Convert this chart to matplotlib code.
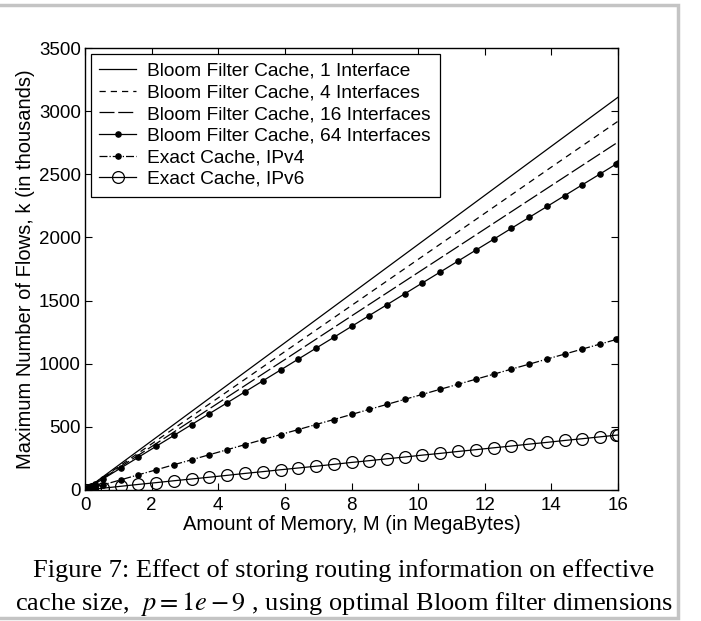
import matplotlib
matplotlib.use("Agg")
import matplotlib.pyplot as plt
from matplotlib.patches import Rectangle

plt.rcParams['font.family'] = ['Liberation Sans', 'DejaVu Sans']
plt.rcParams['mathtext.fontset'] = 'stix'

# memory grid of the marked series (MB)
mem = [0, 0.05, 0.1, 0.2, 0.3, 0.53, 1.07, 1.6, 2.13, 2.67, 3.2, 3.73, 4.27,
       4.8, 5.33, 5.87, 6.4, 6.93, 7.47, 8.0, 8.53, 9.07, 9.6, 10.13, 10.67,
       11.2, 11.73, 12.27, 12.8, 13.33, 13.87, 14.4, 14.93, 15.47, 15.95, 16.0]
bloom64 = [0, 8, 16, 32, 49, 86, 173, 259, 345, 432, 518, 604, 691, 777, 863,
           950, 1036, 1122, 1209, 1295, 1381, 1468, 1554, 1640, 1727, 1813,
           1899, 1986, 2072, 2158, 2245, 2331, 2417, 2504, 2582, 2590]
ipv4 = [0, 4, 7, 15, 22, 40, 80, 120, 159, 200, 239, 279, 319, 359, 398, 439,
        478, 518, 558, 598, 638, 678, 718, 757, 798, 837, 877, 917, 957, 996,
        1037, 1076, 1116, 1156, 1192, 1196]
ipv6 = [0, 1, 3, 5, 8, 14, 29, 44, 58, 73, 87, 101, 116, 131, 145, 160, 174,
        188, 203, 218, 232, 247, 261, 276, 290, 305, 319, 334, 348, 363, 377,
        392, 406, 421, 434, 435]

# plain lines
mem_line = [0, 2, 4, 6, 8, 10, 12, 14, 16]
bloom1 = [0, 389, 778, 1166, 1555, 1944, 2333, 2722, 3110]
bloom4 = [0, 365, 730, 1096, 1461, 1826, 2191, 2557, 2920]
bloom16 = [0, 344, 689, 1033, 1378, 1722, 2066, 2411, 2755]

labels = ["Bloom Filter Cache, 1 Interface", "Bloom Filter Cache, 4 Interfaces",
          "Bloom Filter Cache, 16 Interfaces", "Bloom Filter Cache, 64 Interfaces",
          "Exact Cache, IPv4", "Exact Cache, IPv6"]

fig = plt.figure(figsize=(7.01, 6.21), dpi=100)
ax = fig.add_axes([0.1213, 0.2110, 0.7603, 0.7117])

lw = 0.9
ax.plot(mem_line, bloom1, "-", c="k", lw=lw, label=labels[0])
ax.plot(mem_line, bloom4, "--", c="k", lw=lw, dashes=(5, 4), label=labels[1])
ax.plot(mem_line, bloom16, c="k", lw=lw, dashes=(12, 3), label=labels[2])
ax.plot(mem, bloom64, "-", c="k", lw=lw, marker=".", ms=7.5, label=labels[3])
ax.plot(mem, ipv4, "-.", c="k", lw=lw, marker=".", ms=7.5, label=labels[4])
ax.plot(mem, ipv6, "-", c="k", lw=lw, marker="o", ms=8.5, mfc="none",
        mew=0.9, label=labels[5])

ax.set_xlim(0, 16)
ax.set_ylim(0, 3500)
ax.set_xticks(range(0, 17, 2))
ax.set_yticks(range(0, 3501, 500))
ax.tick_params(direction="in", top=True, right=True, length=5, labelsize=13.5,
               width=0.8)
ax.tick_params(axis="x", pad=5)
ax.tick_params(axis="y", pad=3)
for s in ax.spines.values():
    s.set_linewidth(1.0)
ax.set_xlabel("Amount of Memory, M (in MegaBytes)", fontsize=14.5, labelpad=1)
ax.set_ylabel("Maximum Number of Flows, k (in thousands)", fontsize=14.5,
              labelpad=3)

leg = ax.legend(loc="upper left", fontsize=13.8, fancybox=False, framealpha=1,
                edgecolor="k", borderaxespad=0.3, handlelength=1.9,
                labelspacing=0.22, borderpad=0.45, handletextpad=0.6)
leg.get_frame().set_linewidth(0.9)

cap_font = ['Liberation Serif', 'DejaVu Serif']
fig.text(344 / 701, 1 - 577 / 621,
         "Figure 7: Effect of storing routing information on effective",
         ha="center", va="baseline", fontsize=19, family=cap_font)
fig.text(344 / 701, 1 - 610 / 621,
         r"cache size,  $p = 1e - 9$ , using optimal Bloom filter dimensions",
         ha="center", va="baseline", fontsize=19, family=cap_font)

fig.patches.append(Rectangle((-0.01, 3 / 621), 685 / 701, 613 / 621,
                             transform=fig.transFigure, fill=False,
                             edgecolor="#c4c4c4", lw=2.5))

fig.savefig("out.png", dpi=100)
